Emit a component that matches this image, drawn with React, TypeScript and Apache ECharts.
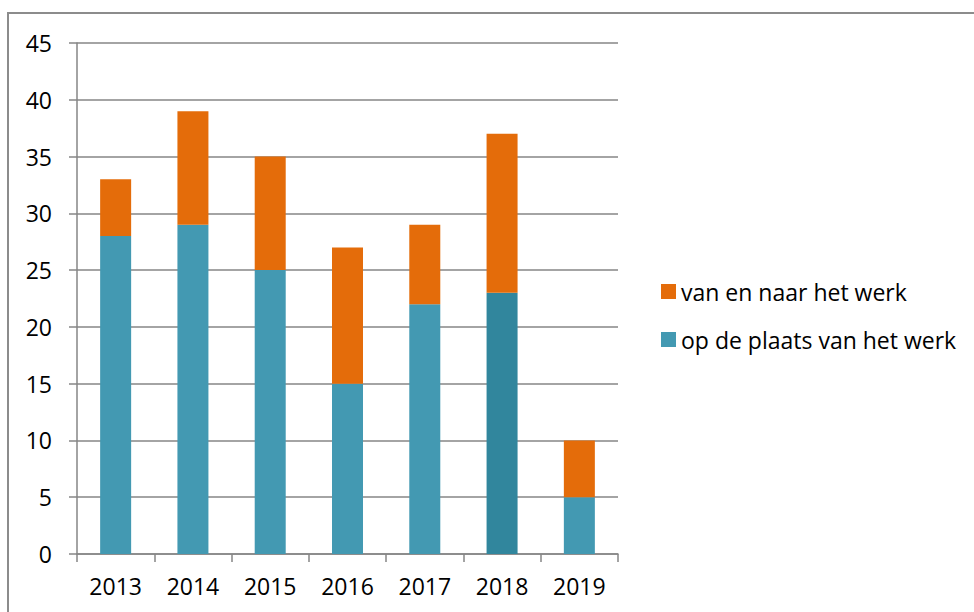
import React, { useEffect, useRef } from "react";
import * as echarts from "echarts";

const categories = ["2013", "2014", "2015", "2016", "2017", "2018", "2019"];
const opDePlaats = [28, 29, 25, 15, 22, 23, 5];
const vanEnNaar = [5, 10, 10, 12, 7, 14, 5];
const seriesNames = ["op de plaats van het werk", "van en naar het werk"];
const highlightedYear = "2018";
const yTicks = { min: 0, max: 45, interval: 5 };

const TEAL = "#4399b2";
const TEAL_DARK = "#31869d";
const ORANGE = "#e46c0a";
const FONT = "'Open Sans', 'Noto Sans', sans-serif";

export default function App() {
  const ref = useRef<HTMLDivElement>(null);
  useEffect(() => {
    if (!ref.current) return;
    const chart = echarts.init(ref.current, undefined, { renderer: "svg" });
    chart.setOption({
      animation: false,
      backgroundColor: "#ffffff",
      textStyle: { fontFamily: FONT },
      graphic: [
        {
          type: "rect",
          shape: { x: 8, y: 13, width: 1100, height: 800 },
          style: { fill: "none", stroke: "#8c8c8c", lineWidth: 2 },
          silent: true,
        },
      ],
      grid: { left: 77, top: 43, width: 541, height: 511, containLabel: false },
      legend: {
        orient: "vertical",
        left: 661,
        top: 280,
        padding: 0,
        itemWidth: 15,
        itemHeight: 15,
        itemGap: 25,
        icon: "rect",
        data: [seriesNames[1], seriesNames[0]],
        textStyle: { fontFamily: FONT, fontSize: 23, lineHeight: 23, color: "#000" },
      },
      xAxis: {
        type: "category",
        data: categories,
        axisLine: { lineStyle: { color: "#868686", width: 1.5 } },
        axisTick: { show: true, length: 8, alignWithLabel: false, lineStyle: { color: "#868686", width: 1.5 } },
        axisLabel: { fontFamily: FONT, fontSize: 23, color: "#000", margin: 20 },
      },
      yAxis: {
        type: "value",
        min: yTicks.min,
        max: yTicks.max,
        interval: yTicks.interval,
        axisLine: { show: true, lineStyle: { color: "#868686", width: 1.5 } },
        axisTick: { show: true, length: 8, lineStyle: { color: "#868686", width: 1.5 } },
        splitLine: { show: true, lineStyle: { color: "#868686", width: 1.5 } },
        axisLabel: { fontFamily: FONT, fontSize: 23, color: "#000", margin: 25 },
      },
      series: [
        {
          name: seriesNames[0],
          type: "bar",
          stack: "total",
          barWidth: 31,
          itemStyle: { color: TEAL },
          data: opDePlaats.map((v, i) =>
            categories[i] === highlightedYear ? { value: v, itemStyle: { color: TEAL_DARK } } : v
          ),
        },
        {
          name: seriesNames[1],
          type: "bar",
          stack: "total",
          barWidth: 31,
          itemStyle: { color: ORANGE },
          data: vanEnNaar,
        },
      ],
    });
    return () => chart.dispose();
  }, []);
  return (
    <div
      ref={ref}
      style={{ position: "absolute", left: 0, top: 0, width: 974, height: 612 }}
    />
  );
}
